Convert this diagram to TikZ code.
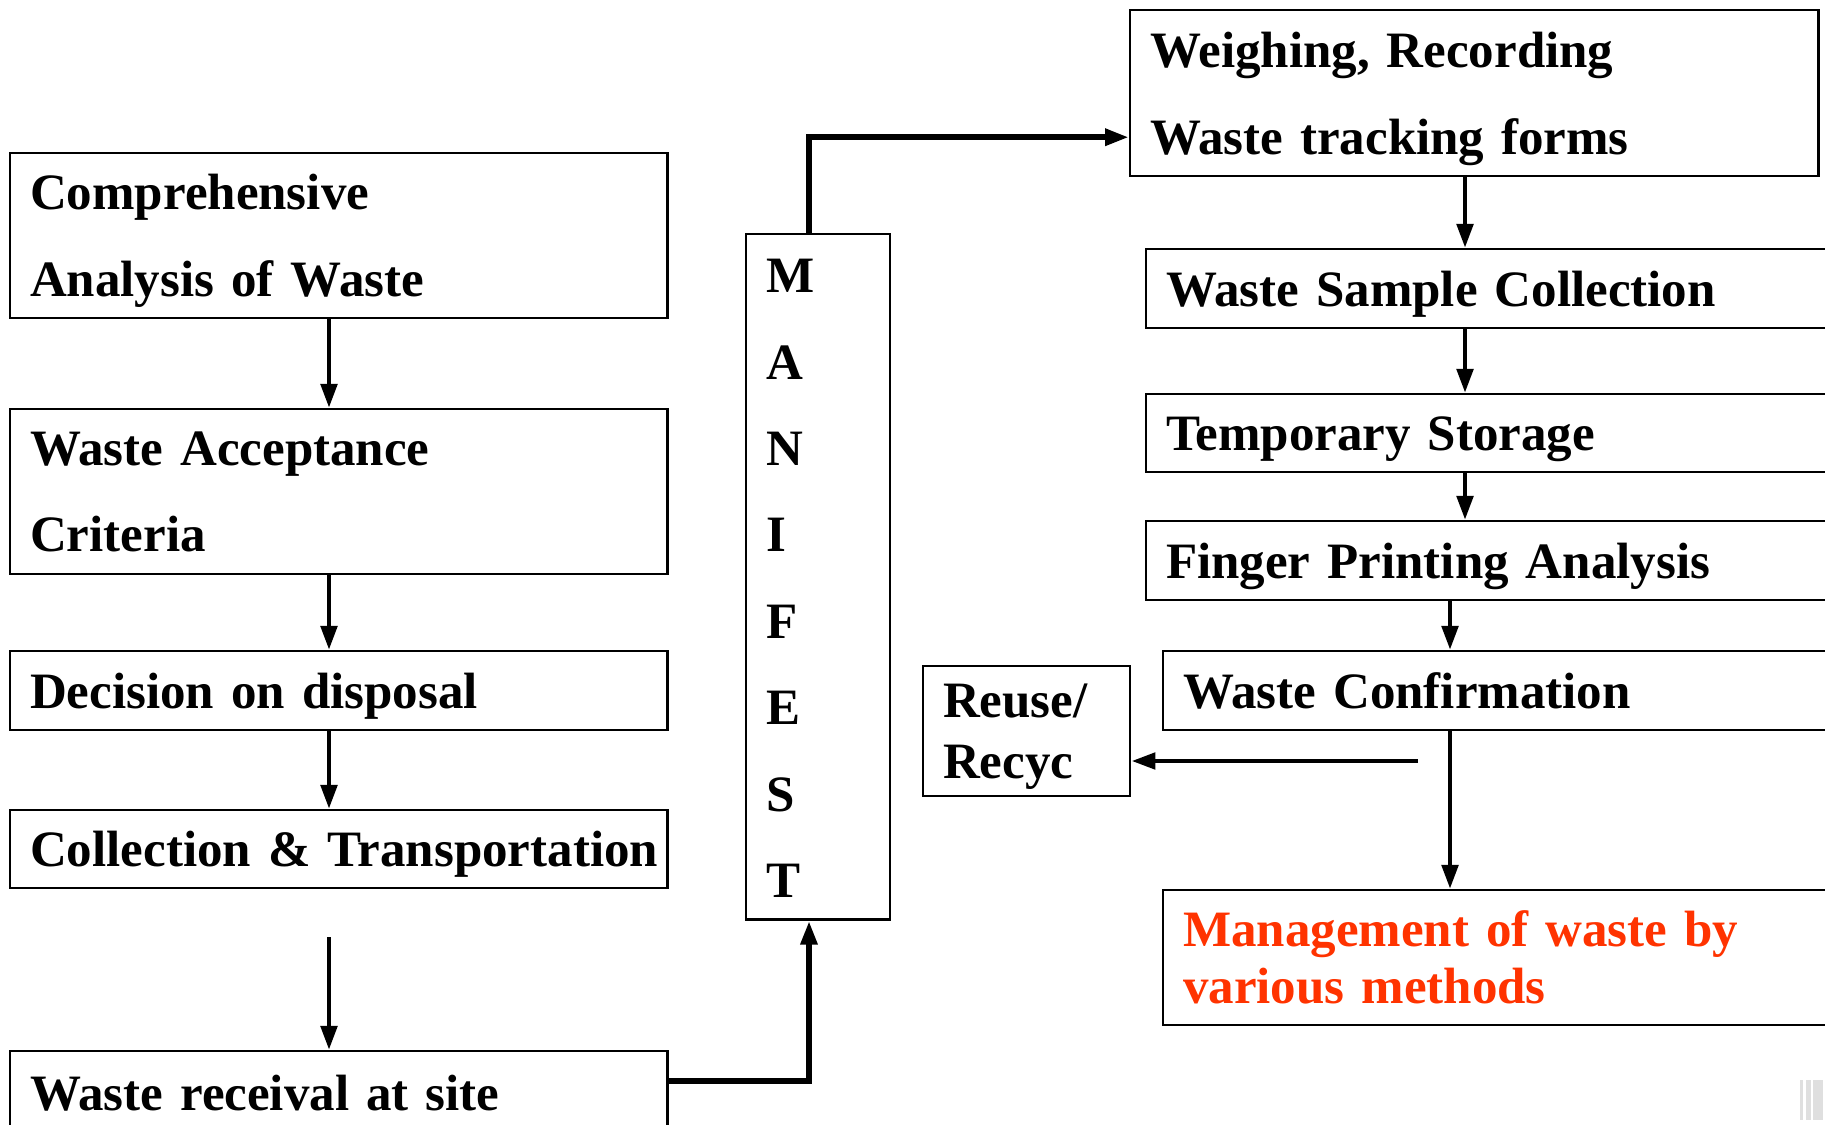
\documentclass[tikz,border=0pt]{standalone}
\usepackage{fontspec}
\setmainfont{Liberation Serif}[WordSpace=0.8]
\usetikzlibrary{arrows.meta,positioning}
\definecolor{mgred}{RGB}{255,51,0}

\tikzset{
  blk/.style={draw, line width=0.65pt, anchor=north west, inner xsep=0.2cm, inner ysep=0pt,
    align=left, font=\bfseries\fontsize{14.5}{24.7}\selectfont},
  one/.style={blk, text depth=0pt},
  two/.style={blk, text depth=24.7pt},
  tight/.style={font={\bfseries\fontsize{14.5}{16.2}\selectfont\lineskiplimit=-1cm}},
  arr/.style={line width=1.4pt, -{Triangle[length=0.24cm,width=0.16cm]}},
  letter/.style={anchor=west, inner sep=0pt, font=\bfseries\fontsize{14.5}{14.5}\selectfont}
}

\begin{document}
\begin{tikzpicture}[x=0.01cm, y=-0.01cm]
  \useasboundingbox (0,0) rectangle (1825,1125);
  \clip (0,0) rectangle (1825,1125);

  % left column
  \node[two, text width=6.17cm, minimum height=1.65cm] (anal) at (9,152) {Comprehensive\\Analysis of Waste};
  \node[two, text width=6.17cm, minimum height=1.65cm] (accept) at (9,408) {Waste Acceptance\\Criteria};
  \node[one, text width=6.17cm, minimum height=0.79cm] (decide) at (9,650) {Decision on disposal};
  \node[one, text width=6.17cm, minimum height=0.78cm] (transp) at (9,809) {\mbox{Collection \& Transportation}};
  \node[one, text width=6.17cm, minimum height=0.84cm] (receive) at (9,1050) {Waste receival at site};

  % the manifest, one letter per line
  \node[blk, minimum width=1.44cm, minimum height=6.85cm] (manif) at (745,233) {};
  \foreach \l [count=\i from 0] in {M,A,N,I,F,E,S,T}
    \node[letter] (m\l) at (766, 276+86.4*\i) {\l};

  % right column
  \node[two, text width=6.48cm, minimum height=1.66cm] (weigh) at (1129,9) {Weighing, Recording\\Waste tracking forms};
  \node[one, text width=6.6cm, minimum height=0.79cm] (sample) at (1145,248) {Waste Sample Collection};
  \node[one, text width=6.6cm, minimum height=0.78cm] (store) at (1145,393) {Temporary Storage};
  \node[one, text width=6.6cm, minimum height=0.79cm] (finger) at (1145,520) {Finger Printing Analysis};
  \node[one, text width=6.6cm, minimum height=0.79cm] (confirm) at (1162,650) {Waste Confirmation};
  \node[blk, text width=1.67cm, minimum height=1.3cm, text depth=17.2pt,
    font={\bfseries\fontsize{14.5}{17.2}\selectfont\lineskiplimit=-1cm}] (reuse) at (922,665) {Reuse/\\Recyc};
  \node[blk, tight, text width=6.6cm, minimum height=1.35cm, text=mgred] (manage) at (1162,889) {Management of waste by\\various methods};

  % arrows down the left side
  \coordinate (lx) at (329,0);
  \draw[arr] (anal.south -| lx) -- (accept.north -| lx);
  \draw[arr] (accept.south -| lx) -- (decide.north -| lx);
  \draw[arr] (decide.south -| lx) -- (transp.north -| lx);
  \coordinate (gap) at (329,937);
  \draw[arr] (gap) -- (gap |- receive.north);

  % into and out of the manifest
  \coordinate (mx) at (809,0);
  \draw[arr, line width=1.7pt] ([yshift=0.12cm]receive.east) -| (manif.south -| mx);
  \draw[arr, line width=1.7pt] (manif.north -| mx) |- ([yshift=-0.44cm]weigh.west);

  % arrows down the right side
  \coordinate (wx) at (1465,0);
  \draw[arr] (weigh.south -| wx) -- (sample.north -| wx);
  \draw[arr] (sample.south -| wx) -- (store.north -| wx);
  \draw[arr] (store.south -| wx) -- (finger.north -| wx);
  \coordinate (cx) at (1450,0);
  \draw[arr] (finger.south -| cx) -- (confirm.north -| cx);
  \draw[arr] (confirm.south -| cx) -- (manage.north -| cx);
  \coordinate (rr) at (1418,761);
  \draw[arr] (rr) -- (rr -| reuse.east);

  % scroll marks in the corner
  \fill[gray!25] (1800,1080) rectangle (1803,1120);
  \fill[gray!25] (1806,1080) rectangle (1811,1120);
  \fill[gray!25] (1813,1080) rectangle (1823,1120);
\end{tikzpicture}
\end{document}
